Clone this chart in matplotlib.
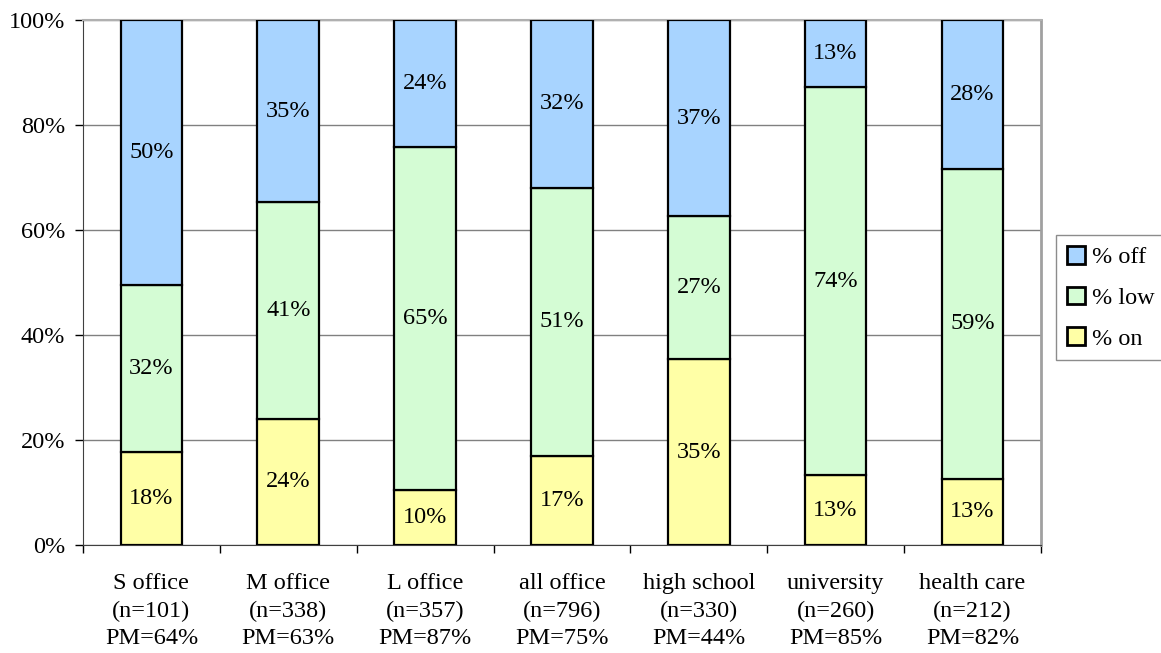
import numpy as np
import matplotlib
matplotlib.use("Agg")
import matplotlib.pyplot as plt
from matplotlib.ticker import FixedLocator, FuncFormatter

# categories and shares (percent)
categories = ["S office\n(n=101)\nPM=64%", "M office\n(n=338)\nPM=63%",
              "L office\n(n=357)\nPM=87%", "all office\n(n=796)\nPM=75%",
              "high school\n(n=330)\nPM=44%", "university\n(n=260)\nPM=85%",
              "health care\n(n=212)\nPM=82%"]
pct_on = [17.8, 24.0, 10.4, 17.0, 35.4, 13.3, 12.6]
pct_low = [31.8, 41.3, 65.4, 51.0, 27.2, 73.9, 59.0]
pct_off = [50.4, 34.7, 24.2, 32.0, 37.4, 12.8, 28.4]

plt.rcParams['font.family'] = ['Liberation Serif', 'DejaVu Serif']
FS = 17.5

fig = plt.figure(figsize=(11.61, 6.53), dpi=100)
ax = fig.add_axes([0.0715, 0.1654, 0.825, 0.804])

x = np.arange(len(categories))
on = np.array(pct_on)
low = np.array(pct_low)
off = np.array(pct_off)

w = 0.45
b1 = ax.bar(x, on, w, color='#FFFFA6', edgecolor='black', linewidth=1.6, label='% on', zorder=3)
b2 = ax.bar(x, low, w, bottom=on, color='#D4FCD4', edgecolor='black', linewidth=1.6, label='% low', zorder=3)
b3 = ax.bar(x, off, w, bottom=on + low, color='#A8D4FF', edgecolor='black', linewidth=1.6, label='% off', zorder=3)

# segment labels
for vals, bottoms in [(on, np.zeros_like(on)), (low, on), (off, on + low)]:
    for xi, v, b in zip(x, vals, bottoms):
        ax.text(xi, b + v / 2, "%d%%" % round(v), ha='center', va='center', fontsize=FS, zorder=4)

ax.set_xlim(-0.5, len(categories) - 0.5)
ax.set_ylim(0, 100)
ax.set_yticks([0, 20, 40, 60, 80, 100])
ax.yaxis.set_major_formatter(FuncFormatter(lambda v, p: "%d%%" % v))
ax.yaxis.grid(True, color='#808080', linewidth=1.0, zorder=0)

ax.set_xticks(x)
ax.set_xticklabels(categories, fontsize=FS, linespacing=1.42)
ax.xaxis.set_minor_locator(FixedLocator(np.arange(-0.5, len(categories), 1.0)))
ax.tick_params(axis='x', which='major', length=0, pad=20)
ax.tick_params(axis='x', which='minor', length=6, width=1, direction='out')
ax.tick_params(axis='y', length=6, width=1, labelsize=FS, pad=7)

ax.spines['top'].set_color('#B0B0B0')
ax.spines['top'].set_linewidth(1.5)
ax.spines['right'].set_color('#A0A0A0')
ax.spines['right'].set_linewidth(2.0)
ax.spines['left'].set_color('#404040')
ax.spines['bottom'].set_color('#404040')

handles = [b3, b2, b1]
leg = fig.legend(handles, [h.get_label() for h in handles], loc='upper left',
                 bbox_to_anchor=(1056 / 1161, 1 - 235 / 653), fontsize=FS, frameon=True,
                 fancybox=False, edgecolor='#707070', handlelength=0.75, handleheight=0.75,
                 handletextpad=0.3, borderpad=0.45, labelspacing=0.75, borderaxespad=0)
leg.get_frame().set_linewidth(1.0)
for p in leg.get_patches():
    p.set_linewidth(2.0)

fig.savefig("out.png", dpi=100)
